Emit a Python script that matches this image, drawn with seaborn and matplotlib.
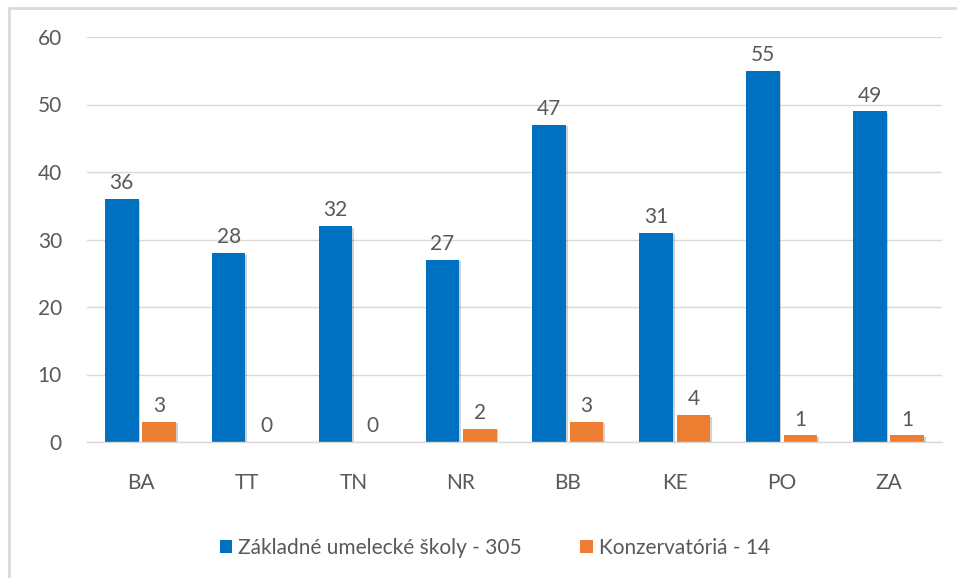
import matplotlib
matplotlib.use("Agg")
import matplotlib.pyplot as plt
import matplotlib.patheffects as pe
from matplotlib.lines import Line2D
from matplotlib.patches import Patch
import seaborn as sns
import pandas as pd

regions = ["BA", "TT", "TN", "NR", "BB", "KE", "PO", "ZA"]
zus = [36, 28, 32, 27, 47, 31, 55, 49]
konz = [3, 0, 0, 2, 3, 4, 1, 1]
series_names = ["Základné umelecké školy - 305", "Konzervatóriá - 14"]
colors = ["#0070C0", "#ED7D31"]
yticks = [0, 10, 20, 30, 40, 50, 60]

df = pd.DataFrame({
    "region": regions * 2,
    "value": zus + konz,
    "series": [series_names[0]] * len(regions) + [series_names[1]] * len(regions),
})

sns.set_theme(style="white")
plt.rcParams['font.family'] = ['Lato', 'DejaVu Sans']
txt = "#595959"
fs = 15

fig = plt.figure(figsize=(9.57, 5.78), dpi=100)
W, H = 957, 578
ax = fig.add_axes([87 / W, 1 - 442 / H, (942 - 87) / W, (442 - 37) / H])

sns.barplot(data=df, x="region", y="value", hue="series", palette=colors,
            width=0.7, gap=0.1, ax=ax, legend=False, saturation=1, linewidth=0)

for p in ax.patches:
    p.set_linewidth(0)
    p.set_path_effects([pe.SimplePatchShadow(offset=(1.2, -1.2), shadow_rgbFace="#000000", alpha=0.18), pe.Normal()])

for c in ax.containers:
    ax.bar_label(c, fmt="%d", padding=4, fontsize=fs, color=txt)

ax.set_ylim(0, 60)
ax.set_yticks(yticks)
ax.set_xlim(-0.5, len(regions) - 0.5)
ax.yaxis.grid(True, color="#D9D9D9", linewidth=1)
ax.set_axisbelow(True)
for s in ["top", "right", "left"]:
    ax.spines[s].set_visible(False)
ax.spines["bottom"].set_color("#D9D9D9")
ax.spines["bottom"].set_linewidth(1)
ax.tick_params(axis="y", labelsize=fs, labelcolor=txt, length=0, pad=18)
ax.tick_params(axis="x", labelsize=fs, labelcolor=txt, length=0, pad=22)
ax.set_xlabel("")
ax.set_ylabel("")

handles = [Patch(facecolor=colors[0], linewidth=0), Patch(facecolor=colors[1], linewidth=0)]
fig.legend(handles, series_names, loc="center", bbox_to_anchor=(495 / W, 1 - 548 / H),
           ncol=2, frameon=False, fontsize=fs, labelcolor=txt,
           handlelength=0.6, handleheight=0.6, handletextpad=0.3, columnspacing=2.8)

# outer frame (top and left visible)
fig.add_artist(Line2D([9 / W, 9 / W], [0, 1 - 8 / H], transform=fig.transFigure, color="#D9D9D9", linewidth=2))
fig.add_artist(Line2D([9 / W, 1], [1 - 8 / H, 1 - 8 / H], transform=fig.transFigure, color="#D9D9D9", linewidth=2))

fig.savefig("out.png", dpi=100)
